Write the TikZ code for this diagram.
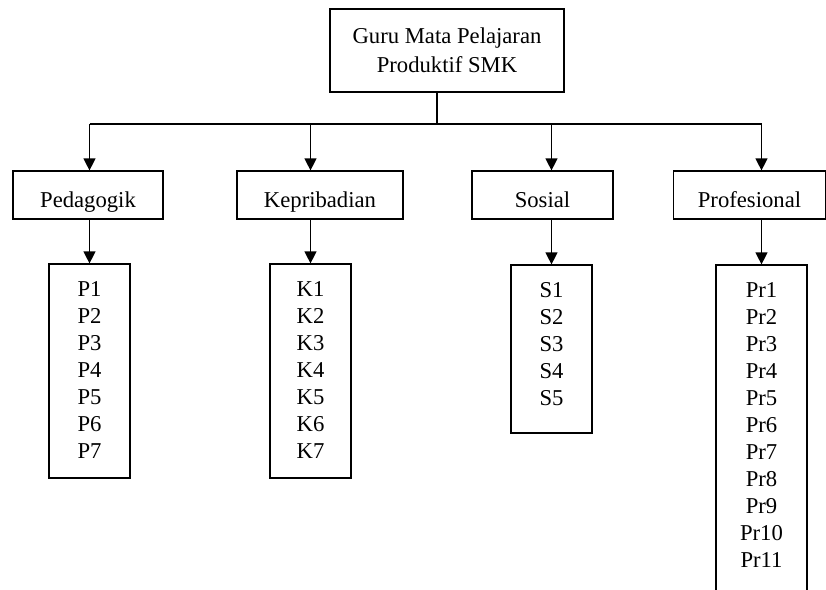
\documentclass[tikz,border=0pt]{standalone}
\usepackage{fontspec}
\setmainfont{Liberation Serif}
\usetikzlibrary{arrows.meta}
\begin{document}
\begin{tikzpicture}[x=0.75pt,y=-0.75pt,
  box/.style={draw, line width=0.9pt, inner sep=0pt, font=\fontsize{17}{21.75}\selectfont},
  head/.style={box, minimum height=36pt, text height=18pt, text depth=0pt},
  listtxt/.style={inner sep=0pt, anchor=north, align=center, font=\fontsize{17}{20.25}\selectfont},
  conn/.style={line width=0.9pt},
  arr/.style={conn, -{Triangle[length=9pt,width=9pt]}}]
\path[use as bounding box] (0,0) rectangle (826,590);
\clip (0,0) rectangle (826,590);
% top
\node[box, minimum width=175.5pt, minimum height=62.25pt, align=center] (top) at (447,50.5) {Guru Mata Pelajaran\\Produktif SMK};
% headers
\node[head, minimum width=112.5pt] (hp) at (88,195) {Pedagogik};
\node[head, minimum width=124.5pt] (hk) at (320,195) {Kepribadian};
\node[head, minimum width=105.75pt] (hs) at (542.5,195) {Sosial};
\node[head, minimum width=114pt] (hr) at (749.5,195) {Profesional};
% lists
\node[box, minimum width=60.75pt, minimum height=160.5pt] (pl) at (89.5,371) {};
\node[box, minimum width=60.75pt, minimum height=160.5pt] (kl) at (310.5,371) {};
\node[box, minimum width=60.75pt, minimum height=126pt] (sl) at (551.5,349) {};
\node[box, minimum width=68.25pt, minimum height=281.25pt] (rl) at (761.5,452.5) {};
\node[listtxt, yshift=-13.5pt] (plt) at (pl.north) {P1\\P2\\P3\\P4\\P5\\P6\\P7};
\node[listtxt, yshift=-13.5pt] (klt) at (kl.north) {K1\\K2\\K3\\K4\\K5\\K6\\K7};
\node[listtxt, yshift=-13.5pt] (slt) at (sl.north) {S1\\S2\\S3\\S4\\S5};
\node[listtxt, yshift=-13.5pt] (rlt) at (rl.north) {Pr1\\Pr2\\Pr3\\Pr4\\Pr5\\Pr6\\Pr7\\Pr8\\Pr9\\Pr10\\Pr11};
% connectors
\coordinate (j) at (437,124);
\draw[conn] (437,0 |- top.south) -- (j);
\draw[conn] (pl.north |- j) -- (rl.north |- j);
\foreach \h/\l in {hp/pl, hk/kl, hs/sl, hr/rl}{
  \draw[arr] (\l.north |- j) -- (\l.north |- \h.north);
  \draw[arr] (\l.north |- \h.south) -- (\l.north);
}
\end{tikzpicture}
\end{document}
